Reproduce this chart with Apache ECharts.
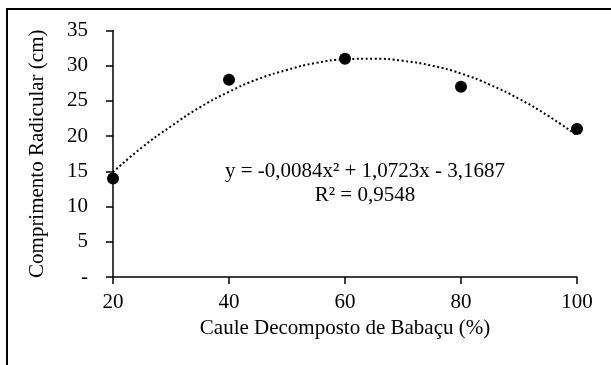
<!DOCTYPE html>
<html>
<head>
<meta charset="utf-8">
<script src="https://cdn.jsdelivr.net/npm/echarts@6/dist/echarts.min.js"></script>
<style>
  html, body { margin: 0; padding: 0; background: #fff; }
  #frame { position: absolute; left: 6px; top: 8px; width: 620px; height: 380px; border: 2px solid #000; box-sizing: border-box; }
  #chart { position: absolute; left: 0; top: 0; width: 611px; height: 365px; }
</style>
</head>
<body>
<div id="frame"></div>
<div id="chart"></div>
<script>
// valores
const xValues = [20, 40, 60, 80, 100]
const yValues = [14, 28, 31, 27, 21]
// linha de tendência (leitura da curva pontilhada)
const trendX = [20, 25, 30, 35, 40, 45, 50, 55, 60, 65, 70, 75, 80, 85, 90, 95, 100]
const trendY = [14.9, 18.4, 21.4, 24.1, 26.3, 28.1, 29.4, 30.4, 30.9, 31.0, 30.7, 30.0, 28.9, 27.3, 25.3, 22.9, 20.1]
const yTickLabels = { 0: '-', 5: '5', 10: '10', 15: '15', 20: '20', 25: '25', 30: '30', 35: '35' }
const equation = 'y = -0,0084x² + 1,0723x - 3,1687'
const rSquared = 'R² = 0,9548'

const font = '"Liberation Serif", "Times New Roman", serif'
const fontSize = 21
const chart = echarts.init(document.getElementById('chart'))

const option = {
  animation: false,
  textStyle: { fontFamily: font },
  grid: { left: 113, right: 34, top: 30.5, bottom: 88, containLabel: false },
  xAxis: {
    type: 'value',
    min: 20,
    max: 100,
    interval: 20,
    name: 'Caule Decomposto de Babaçu (%)',
    nameLocation: 'middle',
    nameGap: 40,
    nameTextStyle: { fontFamily: font, fontSize: fontSize, color: '#000' },
    axisLine: { show: true, lineStyle: { color: '#000', width: 1.5 } },
    axisTick: { show: true, inside: false, length: 7, lineStyle: { color: '#000', width: 1.5 } },
    axisLabel: { fontFamily: font, fontSize: fontSize, color: '#000', margin: 15 },
    splitLine: { show: false }
  },
  yAxis: {
    type: 'value',
    min: 0,
    max: 35,
    interval: 5,
    name: 'Comprimento Radicular (cm)',
    nameLocation: 'middle',
    nameGap: 65,
    nameRotate: 90,
    nameTextStyle: { fontFamily: font, fontSize: fontSize, color: '#000' },
    axisLine: { show: true, lineStyle: { color: '#000', width: 1.5 } },
    axisTick: { show: true, inside: false, length: 7, lineStyle: { color: '#000', width: 1.5 } },
    axisLabel: {
      fontFamily: font, fontSize: fontSize, color: '#000', margin: 25,
      formatter: v => yTickLabels[v]
    },
    splitLine: { show: false }
  },
  graphic: [
    {
      type: 'text', x: 365, y: 171, z: 100,
      style: { text: equation, font: fontSize + 'px ' + font, fill: '#000', align: 'center', verticalAlign: 'middle' }
    },
    {
      type: 'text', x: 365, y: 195, z: 100,
      style: { text: rSquared, font: fontSize + 'px ' + font, fill: '#000', align: 'center', verticalAlign: 'middle' }
    }
  ],
  series: [
    {
      type: 'line',
      data: trendX.map((x, i) => [x, trendY[i]]),
      smooth: true,
      showSymbol: false,
      lineStyle: { color: '#000', width: 2, type: [2, 2.5] },
      z: 2
    },
    {
      type: 'scatter',
      data: xValues.map((x, i) => [x, yValues[i]]),
      symbol: 'circle',
      symbolSize: 12,
      itemStyle: { color: '#000', opacity: 1 },
      z: 3
    }
  ]
}
chart.setOption(option)
</script>
</body>
</html>
